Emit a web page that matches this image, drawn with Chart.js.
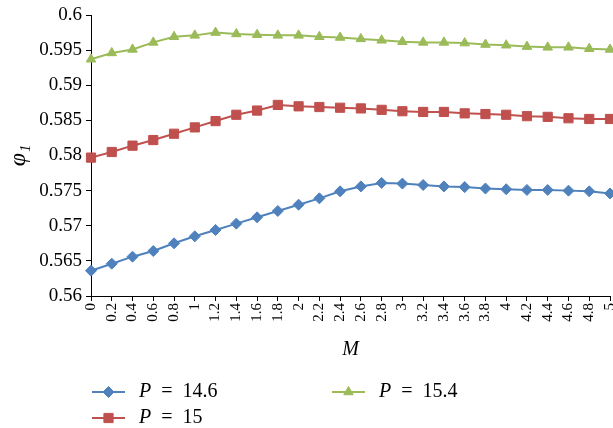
<!DOCTYPE html>
<html>
<head>
<meta charset="utf-8">
<script src="https://cdn.jsdelivr.net/npm/chart.js@4.4.1/dist/chart.umd.min.js"></script>
<style>
    html, body { margin: 0; padding: 0; background: #fff; }
    #wrap { position: relative; width: 613px; height: 428px; }
</style>
</head>
<body>
<div id="wrap"><canvas id="phiChart" width="613" height="428"></canvas></div>
<script>
// M values along the x axis
const mLabels = ['0', '0.2', '0.4', '0.6', '0.8', '1', '1.2', '1.4', '1.6', '1.8', '2', '2.2', '2.4',
    '2.6', '2.8', '3', '3.2', '3.4', '3.6', '3.8', '4', '4.2', '4.4', '4.6', '4.8', '5'];

// phi_1
const phiP146 = [0.5636, 0.5646, 0.5656, 0.5664, 0.5675, 0.5685, 0.5694, 0.5703, 0.5712, 0.5721, 0.5730,
    0.5739, 0.5749, 0.5756, 0.5761, 0.5760, 0.5758, 0.5756, 0.5755, 0.5753, 0.5752, 0.5751, 0.5751,
    0.5750, 0.5749, 0.5746];
const phiP15 = [0.5797, 0.5805, 0.5814, 0.5822, 0.5831, 0.5840, 0.5849, 0.5858, 0.5864, 0.5872, 0.5870,
    0.5869, 0.5868, 0.5867, 0.5865, 0.5863, 0.5862, 0.5862, 0.5860, 0.5859, 0.5858, 0.5856, 0.5855,
    0.5853, 0.5852, 0.5852];
const phiP154 = [0.5937, 0.5946, 0.5951, 0.5961, 0.5969, 0.5971, 0.5975, 0.5973, 0.5972, 0.5971, 0.5971,
    0.5969, 0.5968, 0.5966, 0.5964, 0.5962, 0.5961, 0.5961, 0.5960, 0.5958, 0.5957, 0.5955, 0.5954,
    0.5954, 0.5952, 0.5951];

const pValues = ['14.6', '15', '15.4'];
const yMin = 0.56;
const yMax = 0.6;
const yStep = 0.005;

const serif = '"Liberation Serif", "Times New Roman", serif';

// legend is drawn below the axis in two columns, like the original
const legendSpots = [
    { dataset: 0, x: 92, y: 392 },
    { dataset: 2, x: 332, y: 392 },
    { dataset: 1, x: 92, y: 418 }
];

const bottomLegend = {
    id: 'bottomLegend',
    afterDraw(chart) {
        const ctx = chart.ctx;
        legendSpots.forEach(spot => {
            const ds = chart.data.datasets[spot.dataset];
            ctx.save();
            ctx.strokeStyle = ds.borderColor;
            ctx.lineWidth = 2;
            ctx.beginPath();
            ctx.moveTo(spot.x, spot.y);
            ctx.lineTo(spot.x + 33, spot.y);
            ctx.stroke();
            ctx.fillStyle = ds.pointBackgroundColor;
            ctx.strokeStyle = ds.pointBorderColor;
            ctx.lineWidth = 1;
            Chart.helpers.drawPoint(ctx, {
                pointStyle: ds.pointStyle,
                radius: ds.pointRadius,
                rotation: 0,
                borderWidth: 1
            }, spot.x + 16.5, spot.y);
            ctx.fillStyle = '#000';
            ctx.textBaseline = 'middle';
            ctx.textAlign = 'left';
            let tx = spot.x + 47;
            ctx.font = 'italic 20px ' + serif;
            ctx.fillText('P', tx, spot.y);
            tx += ctx.measureText('P').width;
            ctx.font = '20px ' + serif;
            ctx.fillText('\u2002=\u2002' + pValues[spot.dataset], tx, spot.y);
            ctx.restore();
        });
    }
};

function makeSeries(idx, values, color, style, radius) {
    return {
        label: 'P = ' + pValues[idx],
        data: values,
        borderColor: color,
        backgroundColor: color,
        pointBackgroundColor: color,
        pointBorderColor: color,
        pointStyle: style,
        pointRadius: radius,
        pointBorderWidth: 1,
        borderWidth: 2,
        tension: 0,
        fill: false
    };
}

const ctx = document.getElementById('phiChart').getContext('2d');
const phiChart = new Chart(ctx, {
    type: 'line',
    data: {
        labels: mLabels,
        datasets: [
            makeSeries(0, phiP146, '#4F81BD', 'rectRot', 5.5),
            makeSeries(1, phiP15, '#C0504D', 'rect', 6.5),
            makeSeries(2, phiP154, '#9BBB59', 'triangle', 5.5)
        ]
    },
    options: {
        responsive: false,
        devicePixelRatio: 1,
        animation: false,
        layout: {
            autoPadding: false,
            padding: { top: 15, right: 3, bottom: 66, left: 0 }
        },
        plugins: {
            legend: { display: false },
            tooltip: { enabled: false }
        },
        scales: {
            x: {
                offset: false,
                grid: {
                    display: true,
                    drawOnChartArea: false,
                    drawTicks: true,
                    tickLength: 5,
                    color: '#000',
                    offset: false
                },
                border: { color: '#000', width: 1 },
                ticks: {
                    color: '#000',
                    font: { family: serif, size: 15 },
                    minRotation: 90,
                    maxRotation: 90,
                    autoSkip: false,
                    padding: 2
                },
                title: {
                    display: true,
                    text: 'M',
                    color: '#000',
                    font: { family: serif, size: 20, style: 'italic' },
                    padding: 0
                },
                afterFit(scale) {
                    scale.height = 66;
                    scale.paddingLeft = 0;
                    scale.paddingRight = 0;
                }
            },
            y: {
                min: yMin,
                max: yMax,
                grid: {
                    display: true,
                    drawOnChartArea: false,
                    tickLength: 5,
                    color: '#000'
                },
                border: { color: '#000', width: 1 },
                ticks: {
                    stepSize: yStep,
                    color: '#000',
                    padding: 4,
                    font: { family: serif, size: 19 },
                    callback: value => Number(value.toFixed(3)).toString()
                },
                title: {
                    display: true,
                    text: 'φ₁',
                    color: '#000',
                    font: { family: serif, size: 24, style: 'italic' },
                    padding: { top: 4, bottom: 0 }
                },
                afterFit(scale) {
                    scale.width = 91;
                    scale.paddingTop = 0;
                    scale.paddingBottom = 0;
                }
            }
        }
    },
    plugins: [bottomLegend]
});
</script>
</body>
</html>
